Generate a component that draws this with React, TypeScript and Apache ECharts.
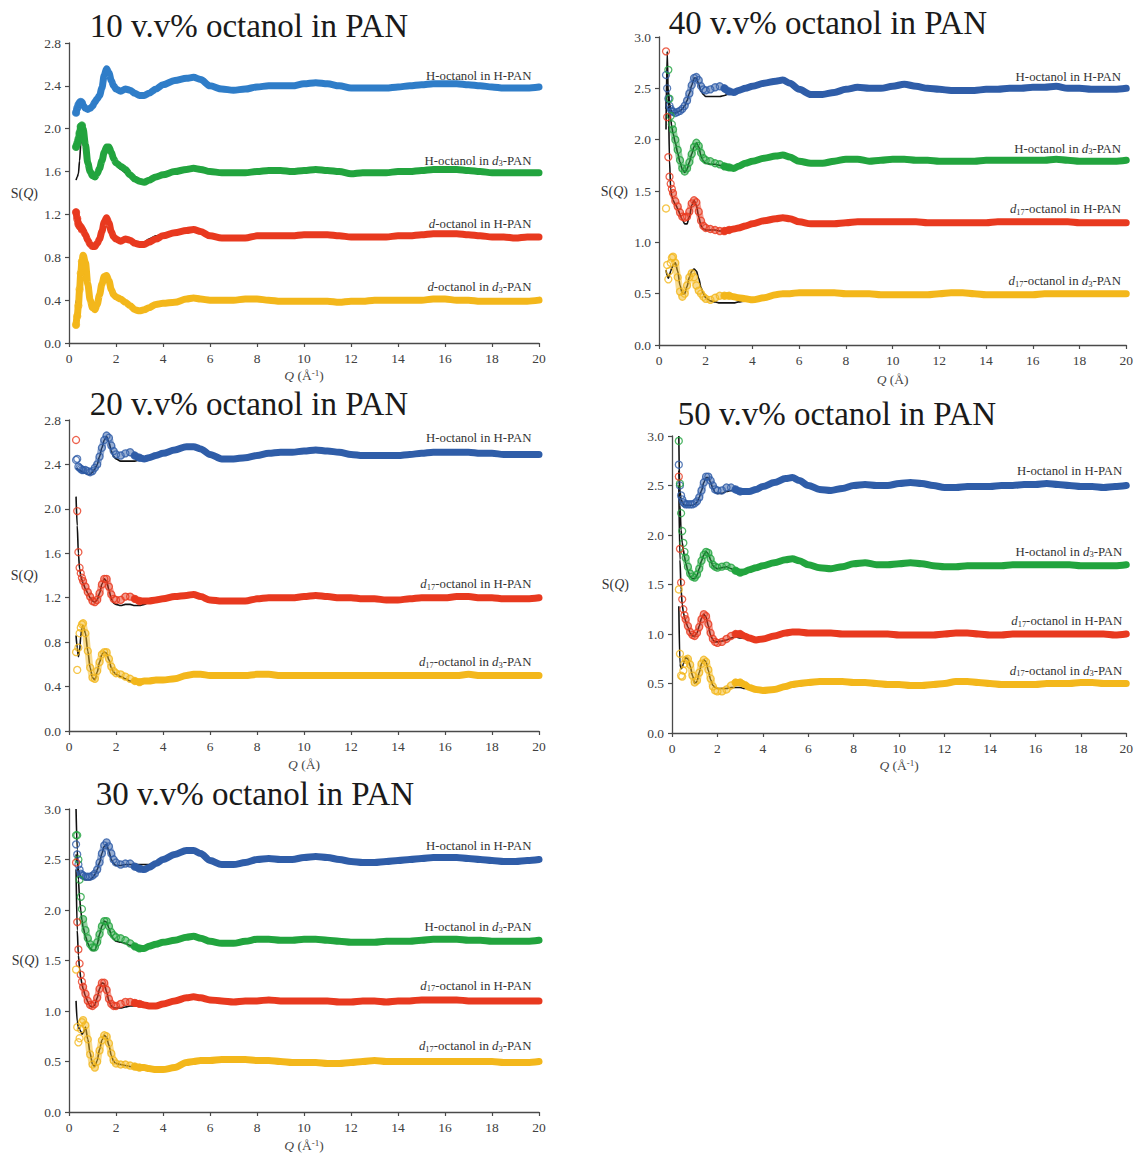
import React, { useEffect, useRef } from 'react';
import * as echarts from 'echarts';

const FONT = '"Liberation Serif", "Times New Roman", serif';

// Q grid shared by every curve (Å^-1)
const qValues = [0.3, 0.35, 0.4, 0.45, 0.5, 0.55, 0.6, 0.7, 0.8, 0.9, 1.0, 1.1, 1.2, 1.3, 1.4, 1.5, 1.6, 1.7, 1.8, 1.9, 2.0,
  2.2, 2.4, 2.6, 2.8, 3.0, 3.2, 3.4, 3.7, 4.0, 4.5, 5.0, 5.3, 5.6, 6.0,
  6.5, 7.0, 7.5, 8.0, 8.5, 9.0, 9.5, 10.0, 10.5, 11.0, 11.5, 12.0, 12.5, 13.0, 13.5, 14.0, 14.5, 15.0, 15.5, 16.0, 16.5, 17.0, 17.5, 18.0, 18.5, 19.0, 19.5, 20.0];
// fits use the first 30 Q values (0.3 .. 4.0)

// ---------- 10 v.v% ----------
const s10Blue = [2.15, 2.19, 2.22, 2.24, 2.25, 2.24, 2.22, 2.19, 2.18, 2.19, 2.21, 2.25, 2.28, 2.31, 2.38, 2.50, 2.56, 2.52, 2.45, 2.40, 2.37,
  2.35, 2.37, 2.36, 2.33, 2.31, 2.31, 2.33, 2.37, 2.41, 2.45, 2.47, 2.48, 2.46, 2.40,
  2.37, 2.36, 2.37, 2.39, 2.40, 2.40, 2.40, 2.42, 2.43, 2.42, 2.40, 2.38, 2.38, 2.38, 2.38, 2.39, 2.40, 2.41, 2.42, 2.42, 2.42, 2.41, 2.40, 2.39, 2.38, 2.38, 2.38, 2.39];
const s10Green = [1.83, 1.86, 1.90, 1.96, 2.02, 2.03, 2.00, 1.85, 1.68, 1.60, 1.56, 1.55, 1.58, 1.63, 1.70, 1.78, 1.83, 1.83, 1.78, 1.72, 1.68,
  1.65, 1.62, 1.57, 1.53, 1.51, 1.50, 1.52, 1.55, 1.57, 1.60, 1.62, 1.63, 1.62, 1.60,
  1.59, 1.59, 1.59, 1.60, 1.61, 1.61, 1.60, 1.61, 1.62, 1.61, 1.60, 1.58, 1.59, 1.59, 1.59, 1.60, 1.60, 1.61, 1.62, 1.62, 1.62, 1.61, 1.60, 1.59, 1.59, 1.59, 1.59, 1.59];
const s10Red = [1.22, 1.16, 1.11, 1.09, 1.08, 1.06, 1.05, 1.01, 0.96, 0.92, 0.90, 0.90, 0.93, 0.97, 1.04, 1.13, 1.17, 1.12, 1.04, 0.99, 0.97,
  0.95, 0.97, 0.96, 0.93, 0.92, 0.92, 0.94, 0.97, 1.00, 1.03, 1.05, 1.06, 1.04, 1.00,
  0.98, 0.98, 0.98, 1.00, 1.00, 1.00, 1.00, 1.01, 1.01, 1.01, 1.00, 0.99, 0.99, 0.99, 0.99, 1.00, 1.00, 1.01, 1.02, 1.02, 1.02, 1.01, 1.00, 0.99, 0.99, 0.98, 0.99, 0.99];
const s10Yellow = [0.17, 0.25, 0.35, 0.50, 0.65, 0.76, 0.82, 0.75, 0.55, 0.40, 0.33, 0.31, 0.36, 0.45, 0.55, 0.62, 0.63, 0.58, 0.50, 0.45, 0.43,
  0.41, 0.38, 0.35, 0.31, 0.30, 0.31, 0.33, 0.36, 0.37, 0.38, 0.41, 0.42, 0.41, 0.40,
  0.40, 0.40, 0.41, 0.41, 0.40, 0.39, 0.39, 0.39, 0.39, 0.39, 0.38, 0.39, 0.39, 0.40, 0.40, 0.40, 0.40, 0.40, 0.41, 0.41, 0.40, 0.40, 0.39, 0.39, 0.39, 0.39, 0.39, 0.40];
const f10Blue = [2.16, 2.19, 2.22, 2.24, 2.24, 2.23, 2.21, 2.19, 2.18, 2.19, 2.21, 2.24, 2.27, 2.30, 2.38, 2.50, 2.56, 2.52, 2.45, 2.39, 2.36, 2.35, 2.35, 2.34, 2.32, 2.31, 2.32, 2.35, 2.39, 2.42];
const f10Green = [1.52, 1.55, 1.58, 1.70, 1.85, 1.97, 2.03, 1.92, 1.72, 1.61, 1.56, 1.55, 1.58, 1.63, 1.70, 1.78, 1.83, 1.83, 1.78, 1.71, 1.66, 1.62, 1.59, 1.55, 1.51, 1.50, 1.50, 1.52, 1.55, 1.57];
const f10Red = [1.14, 1.12, 1.10, 1.09, 1.08, 1.06, 1.04, 1.00, 0.96, 0.92, 0.90, 0.90, 0.93, 0.97, 1.05, 1.14, 1.18, 1.12, 1.04, 0.99, 0.96, 0.95, 0.96, 0.95, 0.93, 0.93, 0.94, 0.97, 1.00, 1.02];
const f10Yellow = [0.37, 0.42, 0.46, 0.55, 0.63, 0.70, 0.73, 0.72, 0.55, 0.40, 0.33, 0.31, 0.36, 0.45, 0.55, 0.62, 0.65, 0.59, 0.50, 0.45, 0.43, 0.41, 0.38, 0.35, 0.31, 0.30, 0.31, 0.33, 0.36, 0.37];

// ---------- 40 v.v% ----------
const s40Blue = [2.63, 2.50, 2.40, 2.33, 2.30, 2.28, 2.27, 2.26, 2.27, 2.28, 2.30, 2.33, 2.38, 2.45, 2.53, 2.60, 2.61, 2.58, 2.52, 2.49, 2.48,
  2.49, 2.51, 2.52, 2.50, 2.47, 2.46, 2.48, 2.50, 2.52, 2.55, 2.57, 2.58, 2.55, 2.49,
  2.44, 2.44, 2.46, 2.49, 2.51, 2.50, 2.50, 2.52, 2.54, 2.52, 2.50, 2.49, 2.48, 2.48, 2.48, 2.49, 2.49, 2.50, 2.50, 2.51, 2.51, 2.52, 2.50, 2.50, 2.49, 2.49, 2.49, 2.50];
const s40Green = [null, null, 2.68, 2.40, 2.23, 2.15, 2.10, 2.00, 1.90, 1.80, 1.72, 1.69, 1.72, 1.78, 1.86, 1.93, 1.97, 1.94, 1.87, 1.82, 1.80,
  1.79, 1.77, 1.76, 1.74, 1.73, 1.72, 1.74, 1.77, 1.79, 1.82, 1.84, 1.85, 1.83, 1.79,
  1.77, 1.77, 1.79, 1.81, 1.81, 1.79, 1.80, 1.81, 1.81, 1.80, 1.80, 1.79, 1.79, 1.79, 1.79, 1.80, 1.80, 1.80, 1.80, 1.80, 1.80, 1.81, 1.80, 1.79, 1.79, 1.79, 1.79, 1.80];
const s40Red = [2.86, 2.22, 1.83, 1.64, 1.57, 1.52, 1.48, 1.40, 1.35, 1.29, 1.25, 1.24, 1.25, 1.30, 1.38, 1.41, 1.39, 1.30, 1.21, 1.16, 1.14,
  1.13, 1.12, 1.11, 1.11, 1.12, 1.13, 1.14, 1.16, 1.18, 1.21, 1.23, 1.24, 1.23, 1.20,
  1.18, 1.18, 1.18, 1.19, 1.20, 1.20, 1.20, 1.20, 1.20, 1.20, 1.19, 1.19, 1.19, 1.19, 1.19, 1.19, 1.20, 1.20, 1.20, 1.20, 1.20, 1.20, 1.20, 1.19, 1.19, 1.19, 1.19, 1.19];
const s40Yellow = [1.33, 0.78, 0.64, 0.72, 0.80, 0.85, 0.86, 0.80, 0.66, 0.52, 0.47, 0.50, 0.58, 0.66, 0.70, 0.66, 0.58, 0.53, 0.50, 0.47, 0.45,
  0.44, 0.46, 0.48, 0.48, 0.48, 0.47, 0.46, 0.45, 0.44, 0.46, 0.49, 0.50, 0.50, 0.51,
  0.51, 0.51, 0.51, 0.50, 0.50, 0.50, 0.49, 0.49, 0.49, 0.49, 0.49, 0.50, 0.51, 0.51, 0.50, 0.49, 0.49, 0.49, 0.49, 0.49, 0.50, 0.50, 0.50, 0.50, 0.50, 0.50, 0.50, 0.50];
const f40Blue = [2.30, 2.50, 2.48, 2.36, 2.29, 2.27, 2.26, 2.26, 2.27, 2.28, 2.30, 2.33, 2.38, 2.45, 2.53, 2.60, 2.60, 2.54, 2.47, 2.44, 2.42, 2.42, 2.42, 2.42, 2.43, 2.45, 2.46, 2.48, 2.50, 2.52];
const f40Green = [null, null, 2.45, 2.30, 2.20, 2.12, 2.06, 1.97, 1.87, 1.78, 1.71, 1.68, 1.71, 1.78, 1.86, 1.93, 1.97, 1.93, 1.84, 1.79, 1.77, 1.76, 1.76, 1.75, 1.74, 1.73, 1.73, 1.75, 1.77, 1.79];
const f40Red = [2.10, 2.86, 2.40, 1.80, 1.52, 1.45, 1.41, 1.37, 1.33, 1.27, 1.22, 1.18, 1.18, 1.25, 1.36, 1.41, 1.36, 1.25, 1.16, 1.13, 1.12, 1.12, 1.12, 1.11, 1.11, 1.12, 1.13, 1.14, 1.16, 1.18];
const f40Yellow = [0.73, 0.68, 0.65, 0.68, 0.72, 0.75, 0.78, 0.80, 0.72, 0.58, 0.50, 0.50, 0.57, 0.66, 0.72, 0.74, 0.72, 0.65, 0.56, 0.50, 0.46, 0.43, 0.42, 0.41, 0.41, 0.41, 0.41, 0.42, 0.43, 0.44];

// ---------- 20 v.v% ----------
const s20Blue = [2.44, 2.45, 2.38, 2.37, 2.36, 2.35, 2.35, 2.35, 2.34, 2.33, 2.34, 2.37, 2.40, 2.47, 2.55, 2.62, 2.66, 2.64, 2.57, 2.52, 2.49,
  2.48, 2.50, 2.51, 2.48, 2.46, 2.45, 2.46, 2.48, 2.50, 2.53, 2.56, 2.56, 2.54, 2.49,
  2.45, 2.45, 2.46, 2.48, 2.50, 2.51, 2.51, 2.52, 2.53, 2.52, 2.51, 2.49, 2.48, 2.48, 2.48, 2.48, 2.49, 2.50, 2.51, 2.51, 2.51, 2.51, 2.50, 2.50, 2.49, 2.49, 2.49, 2.49];
const s20Red = [2.62, 1.98, 1.61, 1.47, 1.42, 1.38, 1.35, 1.30, 1.25, 1.21, 1.17, 1.16, 1.18, 1.24, 1.32, 1.37, 1.37, 1.30, 1.23, 1.19, 1.18,
  1.18, 1.21, 1.21, 1.19, 1.17, 1.17, 1.17, 1.18, 1.19, 1.21, 1.22, 1.23, 1.21, 1.18,
  1.17, 1.17, 1.17, 1.19, 1.20, 1.20, 1.20, 1.21, 1.22, 1.21, 1.20, 1.20, 1.19, 1.19, 1.18, 1.18, 1.19, 1.20, 1.20, 1.20, 1.21, 1.21, 1.20, 1.20, 1.19, 1.19, 1.19, 1.20];
const s20Yellow = [0.71, 0.55, 0.75, 0.88, 0.93, 0.96, 0.97, 0.88, 0.72, 0.57, 0.48, 0.47, 0.54, 0.62, 0.69, 0.71, 0.71, 0.65, 0.58, 0.54, 0.52,
  0.51, 0.49, 0.47, 0.45, 0.44, 0.45, 0.45, 0.46, 0.46, 0.47, 0.50, 0.51, 0.51, 0.50,
  0.50, 0.50, 0.50, 0.51, 0.51, 0.50, 0.50, 0.50, 0.50, 0.50, 0.50, 0.50, 0.50, 0.50, 0.50, 0.50, 0.50, 0.50, 0.50, 0.50, 0.50, 0.51, 0.50, 0.50, 0.50, 0.50, 0.50, 0.50];
const f20Blue = [2.36, 2.36, 2.35, 2.35, 2.34, 2.34, 2.33, 2.32, 2.31, 2.31, 2.33, 2.36, 2.40, 2.47, 2.55, 2.62, 2.65, 2.60, 2.52, 2.47, 2.45, 2.43, 2.43, 2.43, 2.43, 2.44, 2.45, 2.46, 2.48, 2.50];
const f20Red = [2.11, 1.85, 1.60, 1.46, 1.40, 1.36, 1.33, 1.28, 1.24, 1.20, 1.17, 1.16, 1.18, 1.24, 1.32, 1.37, 1.35, 1.27, 1.19, 1.15, 1.14, 1.13, 1.14, 1.14, 1.13, 1.13, 1.14, 1.16, 1.18, 1.19];
const f20Yellow = [0.86, 0.75, 0.67, 0.72, 0.85, 0.93, 0.95, 0.88, 0.72, 0.57, 0.48, 0.46, 0.53, 0.62, 0.69, 0.71, 0.70, 0.64, 0.57, 0.53, 0.51, 0.49, 0.47, 0.45, 0.43, 0.43, 0.44, 0.45, 0.46, 0.46];

// ---------- 50 v.v% ----------
const s50Blue = [2.71, 2.50, 2.40, 2.36, 2.33, 2.32, 2.31, 2.31, 2.31, 2.31, 2.32, 2.34, 2.38, 2.45, 2.53, 2.59, 2.59, 2.55, 2.50, 2.46, 2.45,
  2.45, 2.48, 2.48, 2.46, 2.44, 2.44, 2.44, 2.46, 2.49, 2.53, 2.57, 2.58, 2.55, 2.50,
  2.46, 2.45, 2.47, 2.50, 2.51, 2.50, 2.50, 2.52, 2.53, 2.52, 2.50, 2.48, 2.48, 2.49, 2.49, 2.49, 2.50, 2.50, 2.51, 2.51, 2.52, 2.51, 2.50, 2.49, 2.49, 2.48, 2.49, 2.50];
const s50Green = [2.95, 2.52, 2.22, 2.04, 1.92, 1.83, 1.77, 1.68, 1.61, 1.58, 1.57, 1.60, 1.66, 1.74, 1.80, 1.83, 1.82, 1.76, 1.70, 1.68, 1.67,
  1.68, 1.69, 1.67, 1.64, 1.62, 1.63, 1.65, 1.67, 1.69, 1.72, 1.75, 1.76, 1.74, 1.70,
  1.67, 1.66, 1.68, 1.71, 1.72, 1.70, 1.70, 1.71, 1.72, 1.71, 1.69, 1.68, 1.68, 1.69, 1.69, 1.69, 1.69, 1.70, 1.70, 1.70, 1.70, 1.70, 1.70, 1.69, 1.69, 1.69, 1.69, 1.70];
const s50Red = [2.59, 1.86, 1.52, 1.35, 1.25, 1.19, 1.15, 1.08, 1.02, 0.99, 0.98, 1.01, 1.07, 1.15, 1.20, 1.18, 1.10, 1.01, 0.95, 0.92, 0.91,
  0.92, 0.95, 0.98, 1.00, 1.00, 0.98, 0.96, 0.94, 0.95, 0.98, 1.01, 1.02, 1.02, 1.01,
  1.01, 1.01, 1.00, 1.00, 1.00, 1.00, 1.00, 0.99, 0.99, 0.99, 0.99, 1.00, 1.01, 1.01, 1.00, 0.99, 0.99, 1.00, 1.00, 1.00, 1.00, 1.00, 1.00, 1.00, 1.00, 1.00, 0.99, 1.00];
const s50Yellow = [1.45, 0.80, 0.58, 0.57, 0.63, 0.70, 0.74, 0.75, 0.69, 0.58, 0.51, 0.53, 0.61, 0.70, 0.74, 0.72, 0.64, 0.55, 0.47, 0.43, 0.42,
  0.42, 0.44, 0.48, 0.51, 0.51, 0.49, 0.46, 0.44, 0.43, 0.44, 0.47, 0.49, 0.50, 0.51,
  0.52, 0.52, 0.52, 0.51, 0.51, 0.50, 0.49, 0.49, 0.48, 0.48, 0.49, 0.50, 0.52, 0.52, 0.51, 0.50, 0.49, 0.49, 0.49, 0.49, 0.50, 0.50, 0.50, 0.51, 0.51, 0.50, 0.50, 0.50];
const f50Blue = [2.65, 2.45, 2.36, 2.33, 2.31, 2.30, 2.30, 2.30, 2.30, 2.30, 2.31, 2.33, 2.38, 2.45, 2.53, 2.58, 2.58, 2.53, 2.47, 2.43, 2.42, 2.42, 2.44, 2.45, 2.45, 2.44, 2.44, 2.44, 2.46, 2.49];
const f50Green = [3.00, 2.30, 2.05, 1.92, 1.85, 1.78, 1.72, 1.64, 1.58, 1.56, 1.56, 1.59, 1.66, 1.74, 1.80, 1.83, 1.81, 1.75, 1.69, 1.67, 1.66, 1.67, 1.68, 1.66, 1.63, 1.62, 1.63, 1.65, 1.67, 1.69];
const f50Red = [2.50, 1.75, 1.45, 1.30, 1.22, 1.17, 1.13, 1.07, 1.01, 0.98, 0.98, 1.01, 1.08, 1.16, 1.20, 1.17, 1.08, 0.99, 0.94, 0.92, 0.92, 0.93, 0.94, 0.96, 0.97, 0.96, 0.96, 0.95, 0.94, 0.95];
const f50Yellow = [1.28, 0.70, 0.65, 0.66, 0.70, 0.74, 0.76, 0.75, 0.68, 0.58, 0.50, 0.52, 0.61, 0.70, 0.74, 0.72, 0.63, 0.54, 0.48, 0.46, 0.45, 0.45, 0.45, 0.46, 0.46, 0.46, 0.45, 0.45, 0.44, 0.43];

// ---------- 30 v.v% ----------
const s30Blue = [2.65, 2.55, 2.45, 2.40, 2.36, 2.35, 2.34, 2.33, 2.33, 2.33, 2.34, 2.36, 2.40, 2.47, 2.56, 2.64, 2.67, 2.63, 2.56, 2.50, 2.47,
  2.45, 2.46, 2.46, 2.43, 2.41, 2.40, 2.42, 2.46, 2.50, 2.55, 2.59, 2.59, 2.56, 2.49,
  2.45, 2.45, 2.47, 2.50, 2.51, 2.50, 2.50, 2.52, 2.53, 2.52, 2.50, 2.48, 2.47, 2.47, 2.48, 2.49, 2.50, 2.51, 2.52, 2.52, 2.52, 2.51, 2.50, 2.49, 2.48, 2.48, 2.49, 2.50];
const s30Green = [2.74, 2.74, 2.50, 2.30, 2.13, 2.01, 1.91, 1.80, 1.72, 1.66, 1.63, 1.63, 1.68, 1.76, 1.84, 1.89, 1.89, 1.84, 1.78, 1.75, 1.73,
  1.72, 1.70, 1.67, 1.64, 1.62, 1.62, 1.64, 1.66, 1.68, 1.70, 1.73, 1.74, 1.72, 1.69,
  1.67, 1.67, 1.69, 1.71, 1.71, 1.70, 1.70, 1.71, 1.71, 1.70, 1.69, 1.68, 1.68, 1.68, 1.69, 1.69, 1.69, 1.70, 1.71, 1.71, 1.71, 1.70, 1.70, 1.69, 1.69, 1.69, 1.69, 1.70];
const s30Red = [2.47, 1.88, 1.61, 1.47, 1.36, 1.29, 1.24, 1.17, 1.10, 1.06, 1.05, 1.07, 1.13, 1.22, 1.28, 1.28, 1.21, 1.12, 1.07, 1.05, 1.05,
  1.07, 1.09, 1.09, 1.08, 1.07, 1.06, 1.05, 1.05, 1.07, 1.10, 1.13, 1.14, 1.13, 1.11,
  1.10, 1.09, 1.10, 1.10, 1.11, 1.10, 1.10, 1.10, 1.10, 1.10, 1.09, 1.09, 1.10, 1.10, 1.09, 1.10, 1.10, 1.11, 1.11, 1.11, 1.11, 1.10, 1.10, 1.10, 1.10, 1.10, 1.10, 1.10];
const s30Yellow = [1.41, 0.84, 0.69, 0.73, 0.82, 0.89, 0.91, 0.86, 0.72, 0.57, 0.47, 0.44, 0.50, 0.61, 0.71, 0.76, 0.75, 0.68, 0.58, 0.51, 0.48,
  0.47, 0.47, 0.46, 0.45, 0.44, 0.44, 0.43, 0.42, 0.42, 0.44, 0.49, 0.50, 0.51, 0.51,
  0.52, 0.52, 0.52, 0.51, 0.51, 0.50, 0.49, 0.49, 0.49, 0.48, 0.48, 0.49, 0.50, 0.51, 0.50, 0.50, 0.50, 0.50, 0.50, 0.50, 0.50, 0.50, 0.50, 0.50, 0.49, 0.49, 0.49, 0.50];
const f30Blue = [2.55, 2.47, 2.40, 2.36, 2.33, 2.32, 2.31, 2.30, 2.30, 2.30, 2.32, 2.35, 2.40, 2.47, 2.56, 2.63, 2.65, 2.58, 2.50, 2.46, 2.44, 2.44, 2.45, 2.45, 2.45, 2.45, 2.45, 2.45, 2.47, 2.50];
const f30Green = [3.00, 2.60, 2.30, 2.12, 2.00, 1.90, 1.83, 1.74, 1.67, 1.62, 1.60, 1.60, 1.66, 1.76, 1.84, 1.89, 1.88, 1.82, 1.75, 1.71, 1.69, 1.68, 1.67, 1.65, 1.63, 1.62, 1.62, 1.64, 1.66, 1.68];
const f30Red = [2.40, 1.80, 1.55, 1.42, 1.33, 1.27, 1.22, 1.15, 1.09, 1.05, 1.04, 1.06, 1.13, 1.22, 1.28, 1.27, 1.19, 1.10, 1.05, 1.03, 1.03, 1.03, 1.04, 1.05, 1.05, 1.05, 1.05, 1.06, 1.07, 1.09];
const f30Yellow = [1.10, 0.90, 0.84, 0.82, 0.80, 0.77, 0.78, 0.84, 0.72, 0.58, 0.47, 0.45, 0.51, 0.62, 0.71, 0.76, 0.74, 0.66, 0.56, 0.50, 0.48, 0.47, 0.46, 0.45, 0.44, 0.44, 0.43, 0.43, 0.43, 0.43];

// ---------- texts ----------
const panelTitles = ['10 v.v% octanol in PAN', '40 v.v% octanol in PAN', '20 v.v% octanol in PAN', '50 v.v% octanol in PAN', '30 v.v% octanol in PAN'];
const labels10 = ['H-octanol in H-PAN', 'H-octanol in {i|d}{sub|3}-PAN', '{i|d}-octanol in H-PAN', '{i|d}-octanol in {i|d}{sub|3}-PAN'];
const labels17 = ['H-octanol in H-PAN', 'H-octanol in {i|d}{sub|3}-PAN', '{i|d}{sub|17}-octanol in H-PAN', '{i|d}{sub|17}-octanol in {i|d}{sub|3}-PAN'];
const labels20 = ['H-octanol in H-PAN', '{i|d}{sub|17}-octanol in H-PAN', '{i|d}{sub|17}-octanol in {i|d}{sub|3}-PAN'];
const labelY10 = [2.49, 1.70, 1.11, 0.52];
const labelY40 = [2.61, 1.91, 1.32, 0.62];
const labelY20 = [2.64, 1.32, 0.62];
const labelY50 = [2.65, 1.83, 1.13, 0.63];
const labelY30 = [2.63, 1.83, 1.25, 0.65];
const xNameInv = '{i|Q} (Å{sup|-1})';
const xNamePlain = '{i|Q} (Å)';

const BLUE_A = '#2f7dc8';
const BLUE_B = '#2f5da8';
const GREEN = '#22a43e';
const RED = '#e8391f';
const YELLOW = '#f3b71b';

type Curve = { label: string; labelY: number; color: string; values: (number | null)[]; fit: (number | null)[] };
type Panel = {
  title: string; titleX: number; titleY: number;
  grid: { left: number; top: number; width: number; height: number };
  yMax: number; yInt: number; yGap: number; xName: string; xGap: number;
  labelX: number; bandStart: number; lowBandStart: number; scatterEnd: number; curves: Curve[];
};

const panels: Panel[] = [
  {
    title: panelTitles[0], titleX: 249, titleY: 26,
    grid: { left: 69, top: 43, width: 470, height: 300 },
    yMax: 2.8, yInt: 0.4, yGap: 31, xName: xNameInv, xGap: 25, labelX: 19.7, bandStart: 0, lowBandStart: -1, scatterEnd: 6,
    curves: [
      { label: labels10[0], labelY: labelY10[0], color: BLUE_A, values: s10Blue, fit: f10Blue },
      { label: labels10[1], labelY: labelY10[1], color: GREEN, values: s10Green, fit: f10Green },
      { label: labels10[2], labelY: labelY10[2], color: RED, values: s10Red, fit: f10Red },
      { label: labels10[3], labelY: labelY10[3], color: YELLOW, values: s10Yellow, fit: f10Yellow },
    ],
  },
  {
    title: panelTitles[1], titleX: 828, titleY: 23,
    grid: { left: 659, top: 37, width: 469, height: 308 },
    yMax: 3.0, yInt: 0.5, yGap: 31, xName: xNamePlain, xGap: 27, labelX: 19.8, bandStart: 24, lowBandStart: 6, scatterEnd: 26,
    curves: [
      { label: labels17[0], labelY: labelY40[0], color: BLUE_B, values: s40Blue, fit: f40Blue },
      { label: labels17[1], labelY: labelY40[1], color: GREEN, values: s40Green, fit: f40Green },
      { label: labels17[2], labelY: labelY40[2], color: RED, values: s40Red, fit: f40Red },
      { label: labels17[3], labelY: labelY40[3], color: YELLOW, values: s40Yellow, fit: f40Yellow },
    ],
  },
  {
    title: panelTitles[2], titleX: 249, titleY: 404,
    grid: { left: 69, top: 420, width: 470, height: 311 },
    yMax: 2.8, yInt: 0.4, yGap: 31, xName: xNamePlain, xGap: 26, labelX: 19.7, bandStart: 24, lowBandStart: 6, scatterEnd: 26,
    curves: [
      { label: labels20[0], labelY: labelY20[0], color: BLUE_B, values: s20Blue, fit: f20Blue },
      { label: labels20[1], labelY: labelY20[1], color: RED, values: s20Red, fit: f20Red },
      { label: labels20[2], labelY: labelY20[2], color: YELLOW, values: s20Yellow, fit: f20Yellow },
    ],
  },
  {
    title: panelTitles[3], titleX: 837, titleY: 414,
    grid: { left: 672, top: 436, width: 458, height: 297 },
    yMax: 3.0, yInt: 0.5, yGap: 43, xName: xNameInv, xGap: 25, labelX: 19.85, bandStart: 24, lowBandStart: 6, scatterEnd: 26,
    curves: [
      { label: labels17[0], labelY: labelY50[0], color: BLUE_B, values: s50Blue, fit: f50Blue },
      { label: labels17[1], labelY: labelY50[1], color: GREEN, values: s50Green, fit: f50Green },
      { label: labels17[2], labelY: labelY50[2], color: RED, values: s50Red, fit: f50Red },
      { label: labels17[3], labelY: labelY50[3], color: YELLOW, values: s50Yellow, fit: f50Yellow },
    ],
  },
  {
    title: panelTitles[4], titleX: 255, titleY: 794,
    grid: { left: 69, top: 809, width: 470, height: 305 },
    yMax: 3.0, yInt: 0.5, yGap: 30, xName: xNameInv, xGap: 26, labelX: 19.7, bandStart: 24, lowBandStart: 6, scatterEnd: 26,
    curves: [
      { label: labels17[0], labelY: labelY30[0], color: BLUE_B, values: s30Blue, fit: f30Blue },
      { label: labels17[1], labelY: labelY30[1], color: GREEN, values: s30Green, fit: f30Green },
      { label: labels17[2], labelY: labelY30[2], color: RED, values: s30Red, fit: f30Red },
      { label: labels17[3], labelY: labelY30[3], color: YELLOW, values: s30Yellow, fit: f30Yellow },
    ],
  },
];

function toPts(vals: (number | null)[], from: number, to: number) {
  const out: number[][] = [];
  for (let i = from; i < Math.min(to, vals.length); i++) {
    const v = vals[i];
    if (v !== null && v !== undefined) out.push([qValues[i], v]);
  }
  return out;
}

const AXIS_COLOR = '#4a4a4a';
const TICK_TEXT = '#404040';

function buildOption() {
  const grid: any[] = [];
  const xAxis: any[] = [];
  const yAxis: any[] = [];
  const series: any[] = [];
  const graphic: any[] = [];

  panels.forEach((p, i) => {
    grid.push({ ...p.grid, containLabel: false });
    xAxis.push({
      gridIndex: i, type: 'value', min: 0, max: 20, interval: 2,
      name: p.xName, nameLocation: 'middle', nameGap: p.xGap,
      nameTextStyle: {
        color: '#444', fontFamily: FONT, fontSize: 13.5,
        rich: {
          i: { fontStyle: 'italic', fontFamily: FONT, fontSize: 13.5, color: '#444' },
          sup: { fontFamily: FONT, fontSize: 9, color: '#444', verticalAlign: 'top', lineHeight: 7 },
        },
      },
      axisLine: { show: true, lineStyle: { color: AXIS_COLOR, width: 1.3 } },
      axisTick: { show: true, length: 4, lineStyle: { color: AXIS_COLOR, width: 1.2 } },
      axisLabel: { color: TICK_TEXT, fontFamily: FONT, fontSize: 13.5, margin: 8 },
      splitLine: { show: false },
    });
    yAxis.push({
      gridIndex: i, type: 'value', min: 0, max: p.yMax, interval: p.yInt,
      name: 'S({i|Q})', nameLocation: 'middle', nameRotate: 0, nameGap: p.yGap,
      nameTextStyle: {
        color: '#333', fontFamily: FONT, fontSize: 14,
        rich: { i: { fontStyle: 'italic', fontFamily: FONT, fontSize: 14, color: '#333' } },
      },
      axisLine: { show: true, lineStyle: { color: AXIS_COLOR, width: 1.3 } },
      axisTick: { show: true, length: 4, lineStyle: { color: AXIS_COLOR, width: 1.2 } },
      axisLabel: { color: TICK_TEXT, fontFamily: FONT, fontSize: 13.5, margin: 8, formatter: (v: number) => v.toFixed(1) },
      splitLine: { show: false },
    });

    graphic.push({
      type: 'text', x: p.titleX, y: p.titleY, silent: true,
      style: { text: p.title, fontFamily: FONT, fontSize: 33, fill: '#1a1a1a', align: 'center', verticalAlign: 'middle' },
    });

    p.curves.forEach((c) => {
      // fitted curve (black), drawn underneath the data
      series.push({
        type: 'line', xAxisIndex: i, yAxisIndex: i,
        data: toPts(c.fit, 0, 30),
        showSymbol: false, symbol: 'none', smooth: 0.3, smoothMonotone: 'x',
        lineStyle: { color: '#111', width: 1.6 },
        z: 1, silent: true,
      });
      // low-Q region: lighter band of overlapping open circles
      if (p.lowBandStart >= 0) {
        series.push({
          type: 'line', xAxisIndex: i, yAxisIndex: i,
          data: toPts(c.values, p.lowBandStart, p.scatterEnd),
          showSymbol: false, symbol: 'none', smooth: 0.3, smoothMonotone: 'x',
          lineStyle: { color: c.color, width: 7, opacity: 0.5, cap: 'round', join: 'round' },
          z: 2, silent: true,
        });
      }
      // dense measured data as a thick band
      series.push({
        type: 'line', xAxisIndex: i, yAxisIndex: i,
        data: toPts(c.values, p.bandStart, qValues.length),
        showSymbol: false, symbol: 'none', smooth: 0.3, smoothMonotone: 'x',
        lineStyle: { color: c.color, width: 7, cap: 'round', join: 'round' },
        itemStyle: { color: c.color }, z: 2, silent: true,
        markPoint: {
          silent: true, symbol: 'circle', symbolSize: 1,
          itemStyle: { color: 'rgba(0,0,0,0)' },
          data: [{ coord: [p.labelX, c.labelY] }],
          label: {
            show: true, position: 'left', distance: 0, formatter: c.label,
            color: '#333', fontFamily: FONT, fontSize: 12.8, lineHeight: 14,
            rich: {
              i: { fontStyle: 'italic', fontFamily: FONT, fontSize: 12.8, lineHeight: 14, color: '#333' },
              sub: { fontFamily: FONT, fontSize: 8.5, lineHeight: 6, verticalAlign: 'bottom', color: '#333' },
            },
          },
        },
      });
      // low-Q open circles
      series.push({
        type: 'scatter', xAxisIndex: i, yAxisIndex: i,
        data: toPts(c.values, 0, p.scatterEnd),
        symbol: 'circle', symbolSize: 7,
        itemStyle: { color: 'rgba(255,255,255,0)', borderColor: c.color, borderWidth: 1.3 },
        z: 3, silent: true,
      });
    });
  });

  return {
    animation: false,
    backgroundColor: '#ffffff',
    textStyle: { fontFamily: FONT },
    grid, xAxis, yAxis, series, graphic,
  };
}

export default function App() {
  const ref = useRef<HTMLDivElement>(null);
  useEffect(() => {
    if (!ref.current) return;
    const chart = echarts.init(ref.current, undefined, { renderer: 'svg' });
    chart.setOption(buildOption() as any);
    return () => chart.dispose();
  }, []);
  return (
    <div
      ref={ref}
      style={{ position: 'fixed', left: 0, top: 0, width: 1136, height: 1153, background: '#fff' }}
    />
  );
}
